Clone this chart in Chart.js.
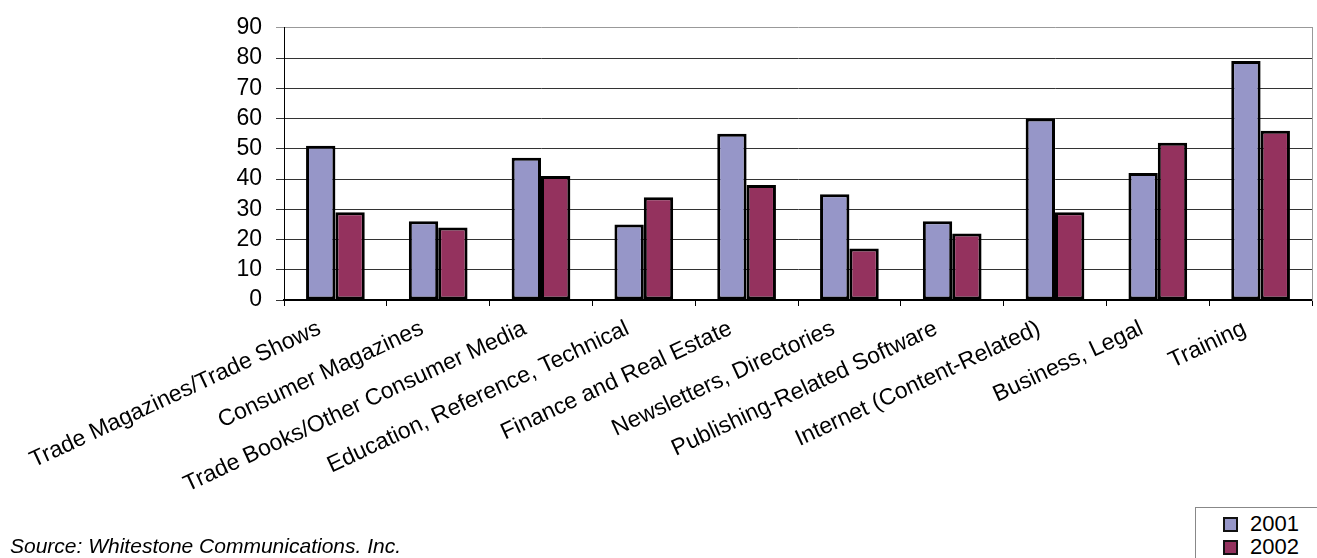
<!DOCTYPE html>
<html lang="en">
<head>
  <meta charset="UTF-8" />
  <title>Revenue growth by segment</title>
  <script src="https://cdn.jsdelivr.net/npm/chart.js"></script>
  <style>
    body { margin: 0; overflow: hidden; background: #fff; font-family: "Liberation Sans", Arial, sans-serif; }
    .wrap { position: relative; width: 1317px; height: 558px; }
    .source { position: absolute; left: 10px; top: 534px; font-size: 21px; font-style: italic; color: #000; }
    .legend { position: absolute; left: 1195px; top: 507px; width: 140px; height: 60px; border: 1px solid #888; background: #fff; }
    .legend div { font-size: 22px; line-height: 23px; margin-left: 27px; color: #000; white-space: nowrap; }
    .legend div:first-child { margin-top: 4px; }
    .legend span { display: inline-block; box-sizing: border-box; width: 15px; height: 15px; border: 2px solid #111; margin-right: 12px; vertical-align: -1px; }
  </style>
</head>
<body>
  <div class="wrap">
    <canvas id="segChart"></canvas>
    <div class="source">Source: Whitestone Communications. Inc.</div>
    <div class="legend" id="legend"></div>
  </div>

  <script>
    const categories = [
      "Trade Magazines/Trade Shows", "Consumer Magazines", "Trade Books/Other Consumer Media",
      "Education, Reference, Technical", "Finance and Real Estate", "Newsletters, Directories",
      "Publishing-Related Software", "Internet (Content-Related)", "Business, Legal", "Training"
    ];
    const values2001 = [51, 26, 47, 25, 55, 35, 26, 60, 42, 79];
    const values2002 = [29, 24, 41, 34, 38, 17, 22, 29, 52, 56];
    const seriesNames = ["2001", "2002"];
    const seriesColors = ["#9696C8", "#94325E"];

    // legend box in the corner
    const legend = document.getElementById("legend");
    seriesNames.forEach((name, i) => {
      const row = document.createElement("div");
      row.innerHTML = `<span style="background:${seriesColors[i]}"></span>${name}`;
      legend.appendChild(row);
    });

    const font = { family: '"Liberation Sans", Arial, sans-serif' };

    new Chart(document.getElementById("segChart"), {
      type: "bar",
      data: {
        labels: categories,
        datasets: [
          { label: seriesNames[0], data: values2001, backgroundColor: seriesColors[0] },
          { label: seriesNames[1], data: values2002, backgroundColor: seriesColors[1] }
        ].map(ds => Object.assign(ds, {
          borderColor: "#000", borderWidth: 3, borderSkipped: false,
          categoryPercentage: 0.571, barPercentage: 1
        }))
      },
      options: {
        responsive: true,
        maintainAspectRatio: false,
        animation: false,
        layout: { padding: { top: 23, right: 0, left: 0, bottom: 0 } },
        plugins: { legend: { display: false }, tooltip: { enabled: false } },
        scales: {
          x: {
            grid: { offset: true, drawOnChartArea: false, drawTicks: true, tickLength: 6, color: "#000" },
            border: { color: "#000", width: 2 },
            ticks: {
              autoSkip: false, minRotation: 25, maxRotation: 25,
              font: { ...font, size: 23 }, color: "#000", padding: 9, labelOffset: -16
            },
            afterFit: s => { s.height = 258; }
          },
          y: {
            min: 0, max: 90,
            ticks: { stepSize: 10, autoSkip: false, font: { ...font, size: 23 }, color: "#000", padding: 14 },
            grid: { color: ctx => (ctx.tick && ctx.tick.value === 90 ? "#999" : "#333"), tickLength: 8 },
            border: { color: "#000" },
            afterFit: s => { s.width = 284; }
          },
          yRight: {
            position: "right", min: 0, max: 90,
            grid: { drawOnChartArea: false, drawTicks: false },
            ticks: { display: false },
            border: { color: "#999" },
            afterFit: s => { s.width = 5; }
          }
        }
      }
    });
  </script>
</body>
</html>
